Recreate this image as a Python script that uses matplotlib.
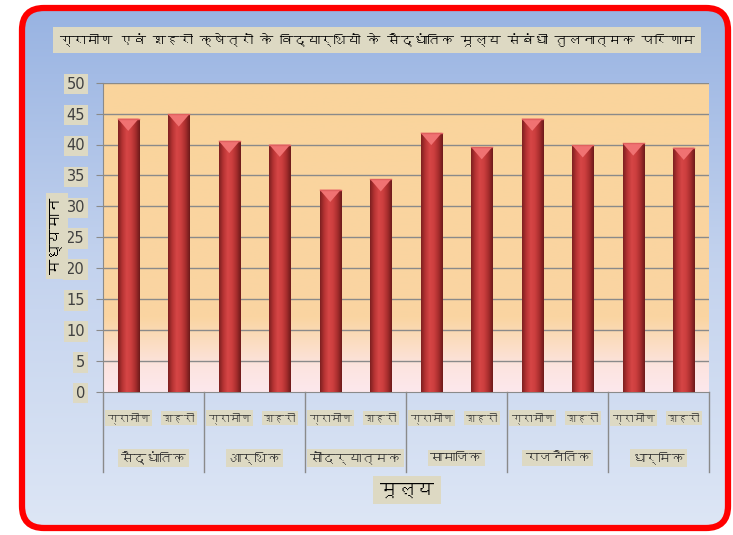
import numpy as np
import matplotlib
matplotlib.use("Agg")
import matplotlib.pyplot as plt
import matplotlib.font_manager as fm
from matplotlib import ft2font
from matplotlib.patches import FancyBboxPatch
from matplotlib.colors import LinearSegmentedColormap
import matplotlib.transforms as mtransforms

# ---------------- data ----------------
groups = ["सैद्धांतिक", "आर्थिक", "सौंदर्यात्मक", "सामाजिक", "राजनैतिक", "धार्मिक"]
subcats = ["ग्रामीण", "शहरी"]
gramin = [44.2, 40.6, 32.7, 41.9, 44.2, 40.2]
shahri = [44.9, 40.0, 34.4, 39.6, 39.9, 39.5]
title = "ग्रामीण एवं शहरी क्षेत्रों के विद्यार्थियों के सैद्धांतिक मूल्य संबंधी तुलनात्मक परिणाम"
ylabel = "मध्यमान"
xlabel = "मूल्य"
yticks = [0, 5, 10, 15, 20, 25, 30, 35, 40, 45, 50]

# ---------------- font search ----------------
deva_family = None
for p in sorted(fm.findSystemFonts()):
    try:
        f = ft2font.FT2Font(p)
        if f.get_char_index(ord("ग")) and f.get_char_index(ord("्")):
            fm.fontManager.addfont(p)
            deva_family = fm.FontProperties(fname=p).get_name()
            break
    except Exception:
        pass
fams = ([deva_family] if deva_family else []) + ["DejaVu Sans"]
plt.rcParams["font.family"] = fams

W, H = 733, 535
fig = plt.figure(figsize=(W / 100, H / 100), dpi=100)
fig.patch.set_facecolor("white")

# ---------------- outer rounded frame with blue gradient ----------------
bg = fig.add_axes([0, 0, 1, 1], zorder=-10)
bg.set_xlim(0, W)
bg.set_ylim(H, 0)
bg.axis("off")
blue = LinearSegmentedColormap.from_list("b", ["#98b3e2", "#c4d3ee", "#dde6f5"])
grad = np.linspace(0, 1, 256).reshape(-1, 1)
frame = FancyBboxPatch((22, 8), 706, 520, boxstyle="round,pad=0,rounding_size=22",
                       facecolor="none", edgecolor="#ff0000", linewidth=4.5, zorder=3)
bg.add_patch(frame)
im = bg.imshow(grad, cmap=blue, aspect="auto", extent=(22, 728, 528, 8), zorder=1)
im.set_clip_path(frame)

# ---------------- main axes ----------------
left, right, top, bottom = 103, 709, 82.7, 391.7
ax = fig.add_axes([left / W, 1 - bottom / H, (right - left) / W, (bottom - top) / H])
ax.set_facecolor("none")
n = len(groups) * 2

plotgrad = LinearSegmentedColormap.from_list(
    "o", [(0, "#fde8ec"), (0.08, "#fce4e0"), (0.24, "#fad5a2"), (1, "#fad49c")])
ax.imshow(np.linspace(0, 1, 256).reshape(-1, 1), cmap=plotgrad, origin="lower",
          aspect="auto", extent=(0, n, 0, 50), zorder=0)

for y in yticks[1:]:
    ax.axhline(y, color="#8a8a8a", lw=1.0, zorder=1)

values = []
for g, s in zip(gramin, shahri):
    values += [g, s]
xs = np.arange(n) + 0.5
bw = 0.42
bars = ax.bar(xs, values, width=bw, color="#c23a3a", edgecolor="#7a1e1e", linewidth=0.6, zorder=3)
barcmap = LinearSegmentedColormap.from_list(
    "r", ["#7e2020", "#b83434", "#d64646", "#cc3e3e", "#a82e2e", "#6e1a1a"])
hgrad = np.linspace(0, 1, 64).reshape(1, -1)
for b, x, v in zip(bars, xs, values):
    bi = ax.imshow(hgrad, cmap=barcmap, aspect="auto",
                   extent=(x - bw / 2, x + bw / 2, 0, v), zorder=3.5)
    bi.set_clip_path(b)
    ax.fill([x - bw / 2, x + bw / 2, x], [v, v, v - 2.0], color="#f07272",
            zorder=4, lw=0)
    ax.plot([x - bw / 2, x + bw / 2], [v, v], color="#e06060", lw=1, zorder=4.2)
ax.set_xlim(0, n)
ax.set_ylim(0, 50)

for sp in ["top", "right"]:
    ax.spines[sp].set_visible(False)
ax.spines["left"].set_color("#8a8a8a")
ax.spines["bottom"].set_color("#8a8a8a")

tan = dict(facecolor="#ddd9c3", edgecolor="none", pad=2)
ax.set_yticks(yticks)
ax.set_yticklabels([str(v) for v in yticks], fontsize=10.5, color="#404040",
                   family=["Liberation Sans Narrow", "DejaVu Sans"])
for t in ax.get_yticklabels():
    t.set_bbox(tan)
ax.tick_params(axis="y", length=5, color="#8a8a8a", pad=8)
ax.set_xticks([])

trans = mtransforms.blended_transform_factory(ax.transData, ax.transAxes)
for i in range(len(groups) + 1):
    ax.plot([2 * i, 2 * i], [0, -0.26], color="#8a8a8a", lw=1, transform=trans,
            clip_on=False, zorder=2)
sub_texts, grp_texts = [], []
for i, g in enumerate(groups):
    for j, sc in enumerate(subcats):
        sub_texts.append(ax.text(2 * i + j + 0.5, -0.085, sc, transform=trans, ha="center",
                                 va="center", fontsize=12, color="#303030", bbox=tan))
    grp_texts.append(ax.text(2 * i + 1, -0.215, g, transform=trans, ha="center", va="center",
                             fontsize=12, color="#303030", bbox=tan))

xl = fig.text(407 / W, 1 - 490 / H, xlabel, ha="center", va="center", fontsize=13,
              fontweight="bold", color="black",
              bbox=dict(facecolor="#ddd9c3", edgecolor="none", pad=5))
yl = fig.text(57 / W, 1 - 236 / H, ylabel, ha="center", va="center", fontsize=13, rotation=90,
              fontweight="bold", color="black",
              bbox=dict(facecolor="#ddd9c3", edgecolor="none", pad=4))
tt = fig.text(377 / W, 1 - 40 / H, title, ha="center", va="center", fontsize=14,
              color="black", bbox=dict(facecolor="#ddd9c3", edgecolor="none", pad=6))

# shrink texts (uniformly per group of labels) so that they fit the available space
fig.canvas.draw()
r = fig.canvas.get_renderer()


def fit(texts, maxsize, dim="w"):
    sizes = []
    for t in texts:
        bb = t.get_window_extent(renderer=r)
        s = bb.width if dim == "w" else bb.height
        sizes.append(t.get_fontsize() * min(1.0, maxsize / s))
    fs = min(sizes)
    for t in texts:
        t.set_fontsize(fs)


fit(sub_texts, 43)
fit(grp_texts, 92)
fit([xl], 56)
fit([yl], 76, "h")
fit([tt], 640)

fig.savefig("out.png", dpi=100)
